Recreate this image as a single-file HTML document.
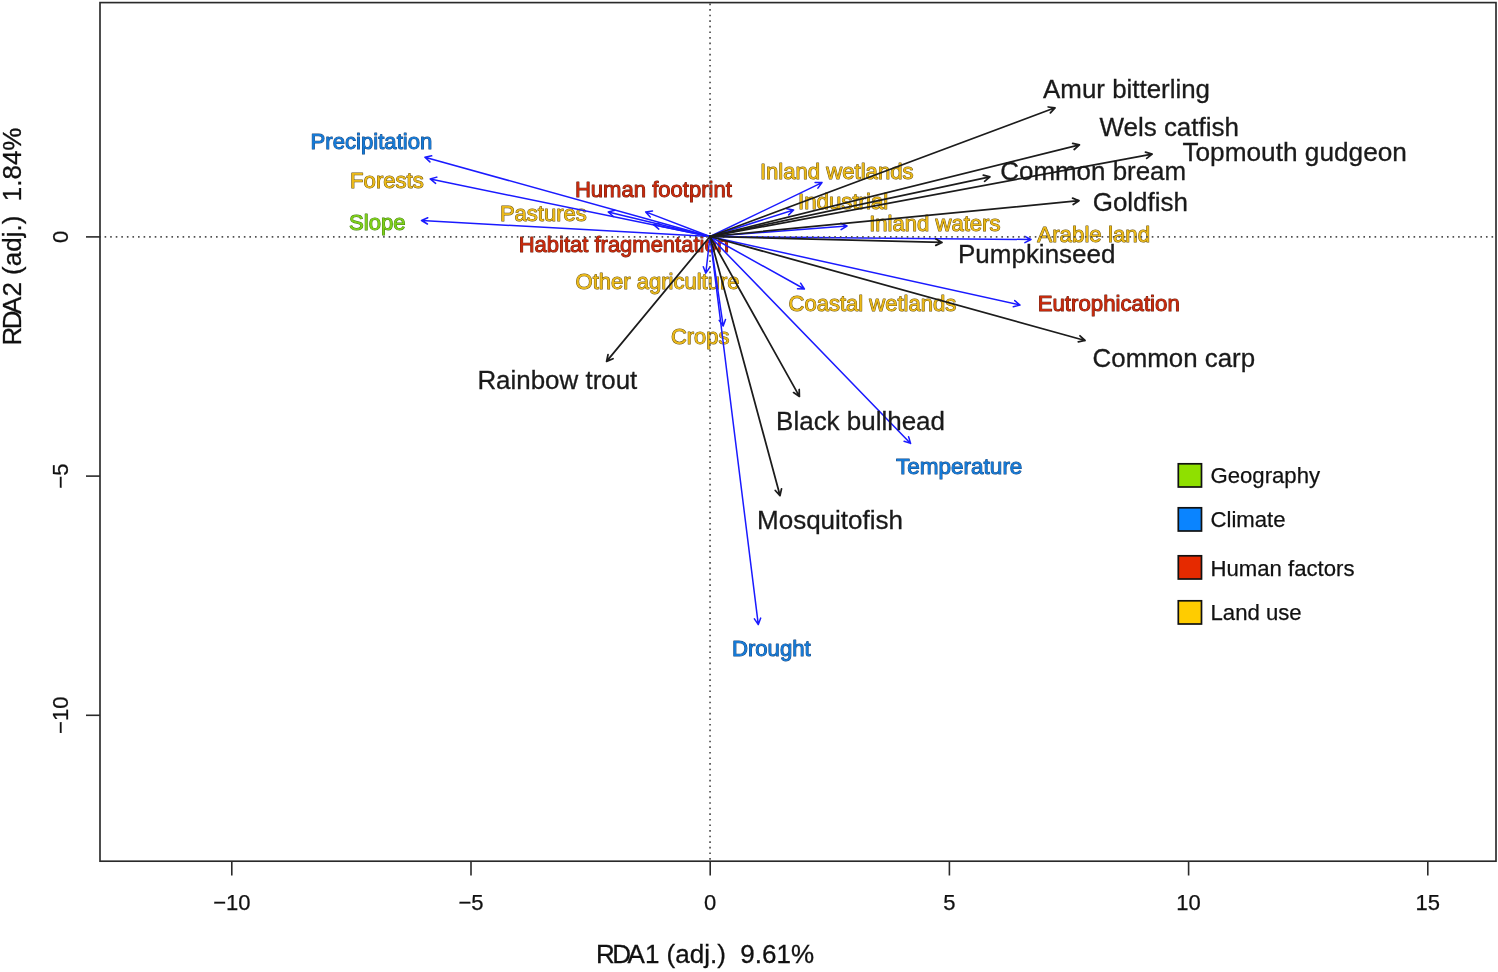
<!DOCTYPE html>
<html><head><meta charset="utf-8"><title>RDA biplot</title>
<style>
html,body{margin:0;padding:0;background:#fff;}
body{width:1498px;height:972px;overflow:hidden;}
svg{display:block;font-family:"Liberation Sans",sans-serif;will-change:transform;}
.sp{fill:#1a1a1a;stroke:#1a1a1a;stroke-width:0.3px;}
.env{stroke-width:1.0px;paint-order:stroke fill;stroke-linejoin:round;}
.cl{fill:#137ad8;stroke:#1c4a80;}
.lu{fill:#ecba18;stroke:#6b520e;}
.ge{fill:#7ed018;stroke:#3f7a10;}
.hf{fill:#c8290b;stroke:#6a190a;}
.tk{font-size:22px;fill:#111;stroke:#111;stroke-width:0.25px;}
.ax{font-size:26px;fill:#111;stroke:#111;stroke-width:0.3px;}
.lg{font-size:22.15px;fill:#111;stroke:#111;stroke-width:0.25px;}
.ba{stroke:#1c1c1c;stroke-width:1.75;fill:none;stroke-linecap:round;stroke-linejoin:round;}
.bl{stroke:#1a1aff;stroke-width:1.5;fill:none;stroke-linecap:round;stroke-linejoin:round;}
</style></head><body>
<svg width="1498" height="972" viewBox="0 0 1498 972">
<rect x="0" y="0" width="1498" height="972" fill="#fff"/>

<g class="env">
<text class="cl" x="310.6" y="149.3" font-size="22.13">Precipitation</text>
<text class="lu" x="350.1" y="188.1" font-size="22.11">Forests</text>
<text class="ge" x="349.0" y="229.6" font-size="22.13">Slope</text>
<text class="lu" x="499.9" y="221.3" font-size="22.04">Pastures</text>
<text class="hf" x="574.9" y="196.9" font-size="22.07">Human footprint</text>
<text class="hf" x="518.7" y="251.6" font-size="21.99">Habitat fragmentation</text>
<text class="lu" x="575.6" y="289.0" font-size="22.02">Other agriculture</text>
<text class="lu" x="671.0" y="344.0" font-size="21.88">Crops</text>
<text class="lu" x="759.9" y="178.5" font-size="22.11">Inland wetlands</text>
<text class="lu" x="798.0" y="209.4" font-size="22.26">Industrial</text>
<text class="lu" x="869.2" y="231.1" font-size="22.08">Inland waters</text>
<text class="lu" x="1037.3" y="242.4" font-size="22.3">Arable land</text>
<text class="lu" x="788.5" y="310.8" font-size="22.02">Coastal wetlands</text>
<text class="hf" x="1037.7" y="310.5" font-size="22.22">Eutrophication</text>
<text class="cl" x="896.0" y="474.2" font-size="22.53">Temperature</text>
<text class="cl" x="731.9" y="655.8" font-size="22.17">Drought</text>
</g>
<g class="bl">
<path d="M710.0 236.5L424.9 157.2M429.9 161.9L424.9 157.2L431.7 155.8"/>
<path d="M710.0 236.5L430.2 179.0M435.6 183.4L430.2 179.0L436.8 177.1"/>
<path d="M710.0 236.5L421.5 220.5M427.4 224.0L421.5 220.5L427.8 217.7"/>
<path d="M710.0 236.5L608.2 212.0M613.4 216.5L608.2 212.0L614.9 210.3"/>
<path d="M710.0 236.5L645.65 211.9M650.2 217.1L645.65 211.9L652.5 211.1"/>
<path d="M710.0 236.5L653.5 224.7M658.8 229.1L653.5 224.7L660.1 222.8"/>
<path d="M710.0 236.5L705.8 273.2M709.7 267.5L705.8 273.2L703.3 266.8"/>
<path d="M710.0 236.5L723.2 326.0M725.5 319.5L723.2 326.0L719.2 320.4"/>
<path d="M710.0 236.5L822.0 182.6M815.1 182.4L822.0 182.6L817.9 188.1"/>
<path d="M710.0 236.5L793.6 210.0M786.8 208.8L793.6 210.0L788.7 214.9"/>
<path d="M710.0 236.5L847.0 226.0M840.7 223.3L847.0 226.0L841.1 229.6"/>
<path d="M710.0 236.5L1031.0 239.5M1024.9 236.3L1031.0 239.5L1024.9 242.6"/>
<path d="M710.0 236.5L804.4 289.0M800.6 283.2L804.4 289.0L797.5 288.8"/>
<path d="M710.0 236.5L1020.0 305.0M1014.7 300.6L1020.0 305.0L1013.3 306.8"/>
<path d="M710.0 236.5L910.6 443.4M908.6 436.8L910.6 443.4L904.1 441.2"/>
<path d="M710.0 236.5L758.3 624.6M760.7 618.1L758.3 624.6L754.4 618.9"/>
</g>
<path d="M100 236.9H1496" stroke="#505050" stroke-width="1.6" stroke-dasharray="1.6 3.97" stroke-dashoffset="-4.6" fill="none"/>
<path d="M710.05 2.6V861" stroke="#505050" stroke-width="1.7" stroke-dasharray="1.6 3.985" stroke-dashoffset="-0.93" fill="none"/>
<g class="ba">
<path d="M710.0 236.5L1055.0 107.8M1048.2 107.0L1055.0 107.8L1050.4 112.9"/>
<path d="M710.0 236.5L1079.4 144.9M1072.7 143.3L1079.4 144.9L1074.2 149.5"/>
<path d="M710.0 236.5L1152.1 154.1M1145.5 152.1L1152.1 154.1L1146.7 158.4"/>
<path d="M710.0 236.5L989.9 176.9M983.3 175.1L989.9 176.9L984.6 181.3"/>
<path d="M710.0 236.5L1079.0 200.7M1072.6 198.1L1079.0 200.7L1073.2 204.5"/>
<path d="M710.0 236.5L942.0 242.4M936.0 239.1L942.0 242.4L935.8 245.4"/>
<path d="M710.0 236.5L1085.0 340.5M1080.0 335.8L1085.0 340.5L1078.3 341.9"/>
<path d="M710.0 236.5L799.4 396.4M799.2 389.5L799.4 396.4L793.6 392.6"/>
<path d="M710.0 236.5L780.0 495.6M781.5 488.9L780.0 495.6L775.3 490.5"/>
<path d="M710.0 236.5L606.6 361.4M613.0 358.7L606.6 361.4L608.0 354.7"/>
</g>
<g class="sp">
<text x="1043.1" y="97.7" font-size="25.9">Amur bitterling</text>
<text x="1099.4" y="136.1" font-size="25.99">Wels catfish</text>
<text x="1182.4" y="161.4" font-size="26.23">Topmouth gudgeon</text>
<text x="1000.3" y="180.2" font-size="25.93">Common bream</text>
<text x="1092.7" y="211.1" font-size="25.97">Goldfish</text>
<text x="958.0" y="262.6" font-size="25.99">Pumpkinseed</text>
<text x="1092.6" y="366.7" font-size="25.89">Common carp</text>
<text x="776.1" y="429.8" font-size="25.98">Black bullhead</text>
<text x="757.0" y="528.7" font-size="26.03">Mosquitofish</text>
<text x="477.4" y="388.5" font-size="25.93">Rainbow trout</text>
</g>
<rect x="100" y="2.6" width="1396" height="858.6" fill="none" stroke="#2a2a2a" stroke-width="1.65"/>
<g stroke="#2a2a2a" stroke-width="1.6" fill="none">
<path d="M231.8 861V875.5"/>
<path d="M471.0 861V875.5"/>
<path d="M710.2 861V875.5"/>
<path d="M949.4 861V875.5"/>
<path d="M1188.6 861V875.5"/>
<path d="M1427.8 861V875.5"/>
<path d="M100 236.9H86"/>
<path d="M100 476.1H86"/>
<path d="M100 715.3H86"/>
</g>
<g class="tk" text-anchor="middle">
<text x="231.8" y="909.6">−10</text>
<text x="471.0" y="909.6">−5</text>
<text x="710.2" y="909.6">0</text>
<text x="949.4" y="909.6">5</text>
<text x="1188.6" y="909.6">10</text>
<text x="1427.8" y="909.6">15</text>
<text transform="translate(68 236.9) rotate(-90)">0</text>
<text transform="translate(68 476.1) rotate(-90)">−5</text>
<text transform="translate(68 715.3) rotate(-90)">−10</text>
</g>
<text class="ax" x="595.9" y="962.6">R<tspan dx="-2.5">D</tspan><tspan dx="-3.4">A</tspan>1 (adj.)  9.61%</text>
<text class="ax" transform="translate(21.3 345.6) rotate(-90)">R<tspan dx="-2.5">D</tspan><tspan dx="-3.4">A</tspan>2 (adj.)  1.84%</text>
<rect x="1178.3" y="463.8" width="23.2" height="23.2" fill="#8fe000" stroke="#111" stroke-width="1.7"/>
<text class="lg" x="1210.5" y="483.3">Geography</text>
<rect x="1178.3" y="507.8" width="23.2" height="23.2" fill="#0a84ff" stroke="#111" stroke-width="1.7"/>
<text class="lg" x="1210.5" y="527.0">Climate</text>
<rect x="1178.3" y="555.8" width="23.2" height="23.2" fill="#e62a00" stroke="#111" stroke-width="1.7"/>
<text class="lg" x="1210.5" y="575.5">Human factors</text>
<rect x="1178.3" y="600.8" width="23.2" height="23.2" fill="#ffcc00" stroke="#111" stroke-width="1.7"/>
<text class="lg" x="1210.5" y="620.3">Land use</text>
</svg></body></html>
